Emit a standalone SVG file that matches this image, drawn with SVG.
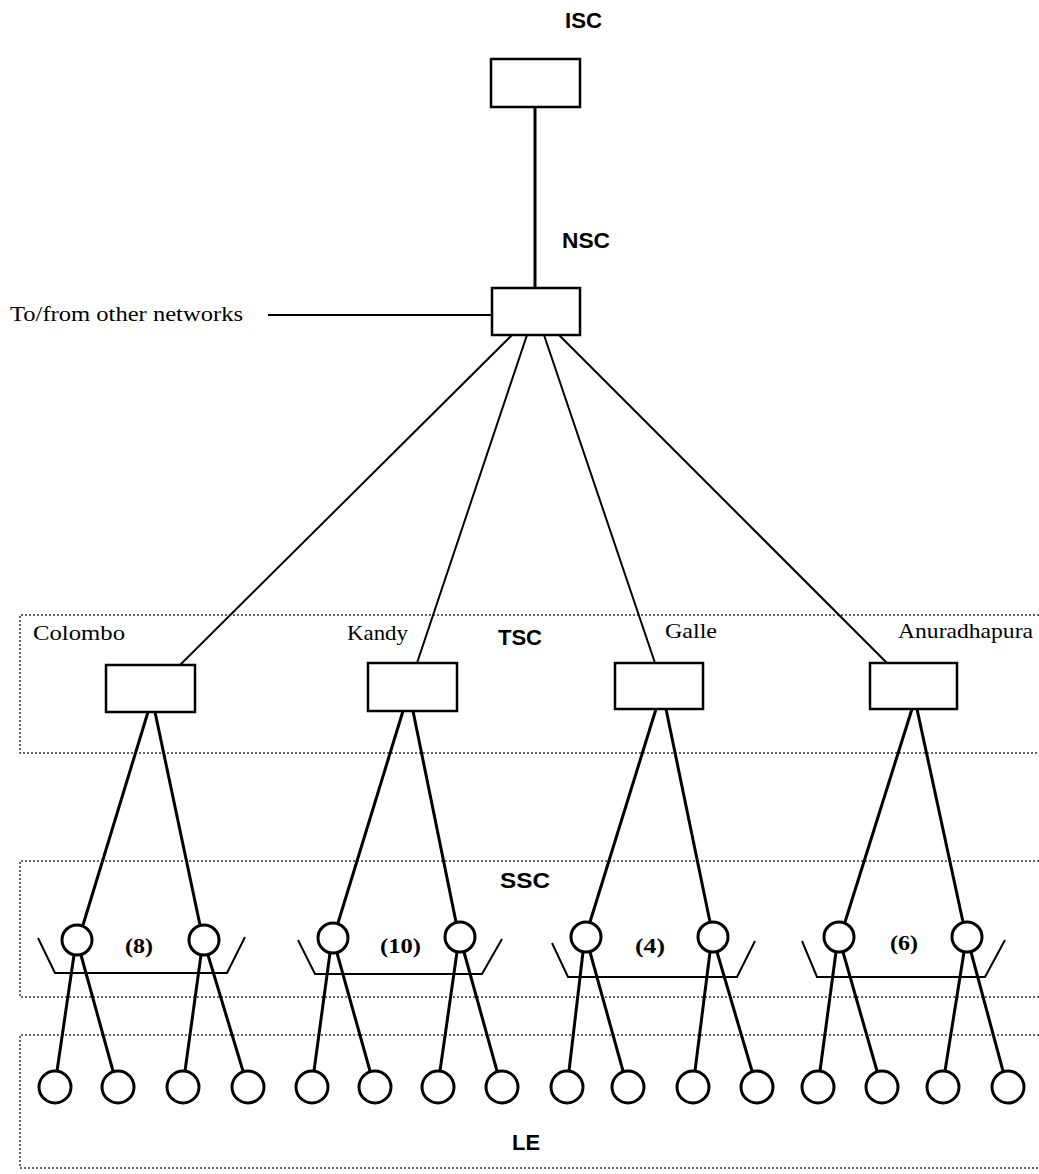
<svg xmlns="http://www.w3.org/2000/svg" width="1039" height="1174" viewBox="0 0 1039 1174">
<style>
.bg{fill:#fff}
.box{fill:#fff;stroke:#000;stroke-width:2.5}
.c1{fill:#fff;stroke:#000;stroke-width:3}
.ln{stroke:#000;stroke-width:2;fill:none}
.lt{stroke:#000;stroke-width:3;fill:none}
.br{stroke:#000;stroke-width:2;fill:none}
.reg{stroke:#333;stroke-width:1.5;stroke-dasharray:2 2;fill:none}
.hb{font-family:"Liberation Sans",Arial,sans-serif;font-weight:bold;font-size:22px;fill:#000}
.tm{font-family:"Liberation Serif","Times New Roman",serif;font-size:22px;fill:#000}
.tb{font-family:"Liberation Serif","Times New Roman",serif;font-weight:bold;font-size:22px;fill:#000}
</style>
<rect class="bg" x="0" y="0" width="1039" height="1174"/>
<g id="regions">
<path class="reg" d="M1039,615 H20 V753 H1039"/>
<path class="reg" d="M1039,861 H20 V997 H1039"/>
<path class="reg" d="M1039,1035 H20 V1168 H1039"/>
</g>
<g id="connectors">
<line class="lt" x1="535" y1="107" x2="535" y2="288"/>
<line class="ln" x1="268" y1="315" x2="492" y2="315"/>
<line class="ln" x1="512" y1="335" x2="180" y2="665"/>
<line class="ln" x1="527" y1="335" x2="417" y2="663"/>
<line class="ln" x1="544" y1="335" x2="655" y2="663"/>
<line class="ln" x1="559" y1="335" x2="887" y2="663"/>
<line class="lt" x1="148" y1="712" x2="83" y2="925"/>
<line class="lt" x1="155" y1="712" x2="200" y2="925"/>
<line class="lt" x1="403" y1="711" x2="338" y2="923"/>
<line class="lt" x1="413" y1="711" x2="456" y2="922"/>
<line class="lt" x1="656" y1="709" x2="590" y2="922"/>
<line class="lt" x1="666" y1="709" x2="710" y2="922"/>
<line class="lt" x1="912" y1="709" x2="845" y2="922"/>
<line class="lt" x1="917" y1="709" x2="963" y2="922"/>
<line class="lt" x1="74" y1="955" x2="57" y2="1071"/>
<line class="lt" x1="81" y1="955" x2="113" y2="1071"/>
<line class="lt" x1="201" y1="955" x2="185" y2="1071"/>
<line class="lt" x1="208" y1="955" x2="243" y2="1071"/>
<line class="lt" x1="330" y1="953" x2="314" y2="1071"/>
<line class="lt" x1="337" y1="953" x2="370" y2="1071"/>
<line class="lt" x1="457" y1="952" x2="440" y2="1071"/>
<line class="lt" x1="464" y1="952" x2="497" y2="1071"/>
<line class="lt" x1="583" y1="952" x2="569" y2="1071"/>
<line class="lt" x1="590" y1="952" x2="623" y2="1071"/>
<line class="lt" x1="710" y1="952" x2="695" y2="1071"/>
<line class="lt" x1="717" y1="952" x2="752" y2="1071"/>
<line class="lt" x1="836" y1="952" x2="820" y2="1071"/>
<line class="lt" x1="843" y1="952" x2="877" y2="1071"/>
<line class="lt" x1="964" y1="952" x2="945" y2="1071"/>
<line class="lt" x1="971" y1="952" x2="1003" y2="1071"/>
</g>
<g id="labels">
<text class="hb" x="565" y="28" textLength="37" lengthAdjust="spacingAndGlyphs">ISC</text>
<text class="hb" x="562" y="248" textLength="48" lengthAdjust="spacingAndGlyphs">NSC</text>
<text class="tm" x="10" y="321" textLength="233" lengthAdjust="spacingAndGlyphs">To/from other networks</text>
<text class="hb" x="498" y="645" textLength="44" lengthAdjust="spacingAndGlyphs">TSC</text>
<text class="hb" x="500" y="888" textLength="50" lengthAdjust="spacingAndGlyphs">SSC</text>
<text class="hb" x="512" y="1150" textLength="28" lengthAdjust="spacingAndGlyphs">LE</text>
</g>
<g id="isc"><rect class="box" x="491" y="59" width="89" height="48"/></g>
<g id="nsc"><rect class="box" x="492" y="288" width="88" height="47"/></g>
<g id="tsc-colombo">
<text class="tm" x="33" y="640" textLength="92" lengthAdjust="spacingAndGlyphs">Colombo</text>
<rect class="box" x="106" y="665" width="89" height="47"/>
</g>
<g id="tsc-kandy">
<text class="tm" x="347" y="640" textLength="61" lengthAdjust="spacingAndGlyphs">Kandy</text>
<rect class="box" x="368" y="663" width="89" height="48"/>
</g>
<g id="tsc-galle">
<text class="tm" x="665" y="638" textLength="52" lengthAdjust="spacingAndGlyphs">Galle</text>
<rect class="box" x="615" y="663" width="88" height="46"/>
</g>
<g id="tsc-anuradhapura">
<text class="tm" x="898" y="638" textLength="135" lengthAdjust="spacingAndGlyphs">Anuradhapura</text>
<rect class="box" x="870" y="663" width="87" height="46"/>
</g>
<g id="ssc-colombo">
<path class="br" d="M38,938 L55,973 H227 L245,937"/>
<circle class="c1" cx="77" cy="940" r="15"/>
<circle class="c1" cx="204" cy="940" r="15"/>
<text class="tb" x="125" y="953" textLength="28" lengthAdjust="spacingAndGlyphs">(8)</text>
</g>
<g id="ssc-kandy">
<path class="br" d="M298,940 L315,974 H482 L502,939"/>
<circle class="c1" cx="333" cy="938" r="15"/>
<circle class="c1" cx="460" cy="937" r="15"/>
<text class="tb" x="380" y="953" textLength="41" lengthAdjust="spacingAndGlyphs">(10)</text>
</g>
<g id="ssc-galle">
<path class="br" d="M552,943 L568,977 H737 L755,941"/>
<circle class="c1" cx="586" cy="937" r="15"/>
<circle class="c1" cx="713" cy="937" r="15"/>
<text class="tb" x="635" y="953" textLength="30" lengthAdjust="spacingAndGlyphs">(4)</text>
</g>
<g id="ssc-anuradhapura">
<path class="br" d="M802,941 L817,977 H985 L1005,940"/>
<circle class="c1" cx="839" cy="937" r="15"/>
<circle class="c1" cx="967" cy="937" r="15"/>
<text class="tb" x="890" y="950" textLength="28" lengthAdjust="spacingAndGlyphs">(6)</text>
</g>
<g id="le">
<circle class="c1" cx="55" cy="1087" r="16"/>
<circle class="c1" cx="118" cy="1087" r="16"/>
<circle class="c1" cx="183" cy="1087" r="16"/>
<circle class="c1" cx="248" cy="1087" r="16"/>
<circle class="c1" cx="312" cy="1087" r="16"/>
<circle class="c1" cx="375" cy="1087" r="16"/>
<circle class="c1" cx="438" cy="1087" r="16"/>
<circle class="c1" cx="502" cy="1087" r="16"/>
<circle class="c1" cx="567" cy="1087" r="16"/>
<circle class="c1" cx="628" cy="1087" r="16"/>
<circle class="c1" cx="693" cy="1087" r="16"/>
<circle class="c1" cx="757" cy="1087" r="16"/>
<circle class="c1" cx="818" cy="1087" r="16"/>
<circle class="c1" cx="882" cy="1087" r="16"/>
<circle class="c1" cx="943" cy="1087" r="16"/>
<circle class="c1" cx="1008" cy="1087" r="16"/>
</g>
</svg>
